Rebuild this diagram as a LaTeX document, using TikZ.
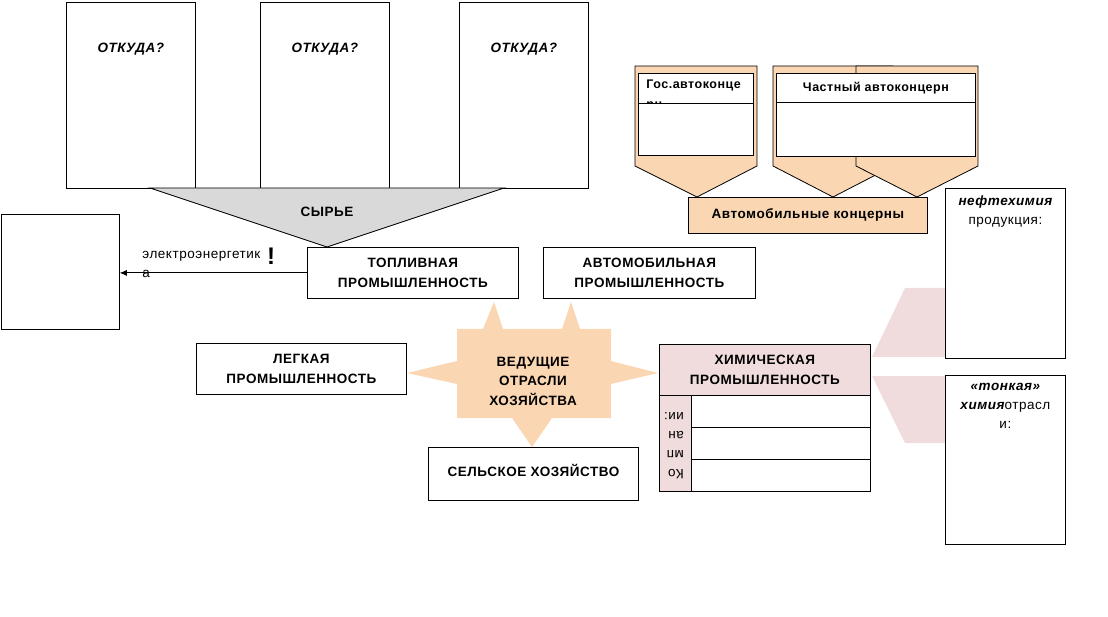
\documentclass[tikz,border=0pt]{standalone}
\usepackage{fontspec}
\setmainfont{Liberation Sans}[LetterSpace=4]
\usetikzlibrary{arrows.meta, positioning}
\definecolor{persik}{RGB}{250, 214, 178}
\definecolor{rozovy}{RGB}{240, 220, 220}
\definecolor{sery}{RGB}{217, 217, 217}

\begin{document}
\begin{tikzpicture}[x=1pt, y=-1pt, line width=0.8pt,
    every node/.style={font=\fontsize{13.5}{19}\selectfont, inner sep=0pt},
    ramka/.style={draw, fill=white, anchor=north west},
    zagl/.style={font=\fontsize{13.5}{19.5}\selectfont\bfseries, align=center}]
  \useasboundingbox (0,0) rectangle (1108,617);

  % откуда берется сырье
  \node[ramka, minimum width=129pt, minimum height=186pt] (otkuda1) at (66,2) {};
  \node[ramka, minimum width=129pt, minimum height=186pt] (otkuda2) at (260,2) {};
  \node[ramka, minimum width=129pt, minimum height=186pt] (otkuda3) at (459,2) {};
  \node[zagl, font=\fontsize{13.5}{19}\selectfont\bfseries\itshape, below=41pt of otkuda1.north] {ОТКУДА?};
  \node[zagl, font=\fontsize{13.5}{19}\selectfont\bfseries\itshape, below=41pt of otkuda2.north] {ОТКУДА?};
  \node[zagl, font=\fontsize{13.5}{19}\selectfont\bfseries\itshape, below=41pt of otkuda3.north] {ОТКУДА?};

  \filldraw[fill=sery] (150,188) -- (504,188) -- (327,247) -- cycle;
  \node[zagl] (syrie) at (327,212) {СЫРЬЕ};

  % звезда
  \fill[persik] (407,373) -- (457,361) -- (457,329) -- (483,329) -- (494,302) -- (503,329)
    -- (562,329) -- (571,302) -- (580,329) -- (611,329) -- (611,361) -- (658,373)
    -- (611,384) -- (611,418) -- (552,418) -- (532,447) -- (512,418) -- (457,418)
    -- (457,384) -- cycle;
  \node[zagl] (vedush) at (533,381) {ВЕДУЩИЕ\\ОТРАСЛИ\\ХОЗЯЙСТВА};

  % отрасли
  \node[ramka, minimum width=118pt, minimum height=115pt] (levy) at (1,214) {};
  \node[ramka, minimum width=211pt, minimum height=51pt, zagl] (topl) at (307,247) {ТОПЛИВНАЯ\\ПРОМЫШЛЕННОСТЬ};
  \node[ramka, minimum width=212pt, minimum height=51pt, zagl] (avtoprom) at (543,247) {АВТОМОБИЛЬНАЯ\\ПРОМЫШЛЕННОСТЬ};
  \node[ramka, minimum width=210pt, minimum height=51pt, zagl] (legk) at (196,343) {ЛЕГКАЯ\\ПРОМЫШЛЕННОСТЬ};
  \node[ramka, minimum width=210pt, minimum height=53pt] (selsk) at (428,447) {};
  \node[zagl, below=17pt of selsk.north] (selsktxt) {СЕЛЬСКОЕ ХОЗЯЙСТВО};

  \draw[-{Latex[length=7pt, width=6pt]}] (topl.west) -- (topl.west -| levy.east);
  \node[anchor=north west, align=left] (elektro) at (142,251) {электроэнергетик\\а};
  \node[font=\fontsize{24}{24}\selectfont\bfseries] (vosklic) at (271,256) {!};

  % химическая промышленность
  \fill[rozovy] (872,357) -- (905,288) -- (945,288) -- (945,357) -- cycle;
  \fill[rozovy] (872,376) -- (945,376) -- (945,443) -- (905,443) -- cycle;
  \node[ramka, fill=rozovy, minimum width=211pt, minimum height=51pt, zagl] (him) at (659,344) {ХИМИЧЕСКАЯ\\ПРОМЫШЛЕННОСТЬ};
  \node[ramka, fill=rozovy, minimum width=32pt, minimum height=96pt] (kolonka) at (659,395) {};
  \node[ramka, minimum width=179pt, minimum height=32pt] (stroka1) at (691,395) {};
  \node[ramka, minimum width=179pt, minimum height=32pt] (stroka2) at (691,427) {};
  \node[ramka, minimum width=179pt, minimum height=32pt] (stroka3) at (691,459) {};
  \node[rotate=180, align=left] (kompanii) at (674,446) {Ко\\мп\\ан\\ии:};

  \node[ramka, minimum width=120pt, minimum height=170pt] (neft) at (945,188) {};
  \node[align=center, below=7pt of neft.north] (nefttxt) {\bfseries\itshape нефтехимия\\продукция:};
  \node[ramka, minimum width=120pt, minimum height=169pt] (tonk) at (945,375) {};
  \node[align=center, below=8pt of tonk.north] (tonktxt) {{\bfseries\itshape «тонкая»}\\{\bfseries\itshape химия}отрасл\\и:};

  % автоконцерны
  \filldraw[fill=persik] (635,66) -- (757,66) -- (757,166) -- (697,197) -- (635,166) -- cycle;
  \filldraw[fill=persik] (773,66) -- (893,66) -- (893,166) -- (833,197) -- (773,166) -- cycle;
  \filldraw[fill=persik] (856,66) -- (978,66) -- (978,166) -- (917,197) -- (856,166) -- cycle;
  \node[ramka, minimum width=115pt, minimum height=30pt] (gos) at (638,73) {};
  \node[anchor=north west, align=left, font=\fontsize{12.5}{20}\selectfont\bfseries] (gostxt) at (646,80) {Гос.автоконце\\рн};
  \node[ramka, minimum width=115pt, minimum height=52pt] (gosniz) at (638,103) {};
  \node[ramka, minimum width=199pt, minimum height=29pt, font=\fontsize{12.5}{19}\selectfont\bfseries] (chast) at (776,73) {Частный автоконцерн};
  \node[ramka, minimum width=199pt, minimum height=54pt] (chastniz) at (776,102) {};
  \node[ramka, fill=persik, minimum width=239pt, minimum height=36pt, zagl] (konc) at (688,197) {Автомобильные концерны};
\end{tikzpicture}
\end{document}
